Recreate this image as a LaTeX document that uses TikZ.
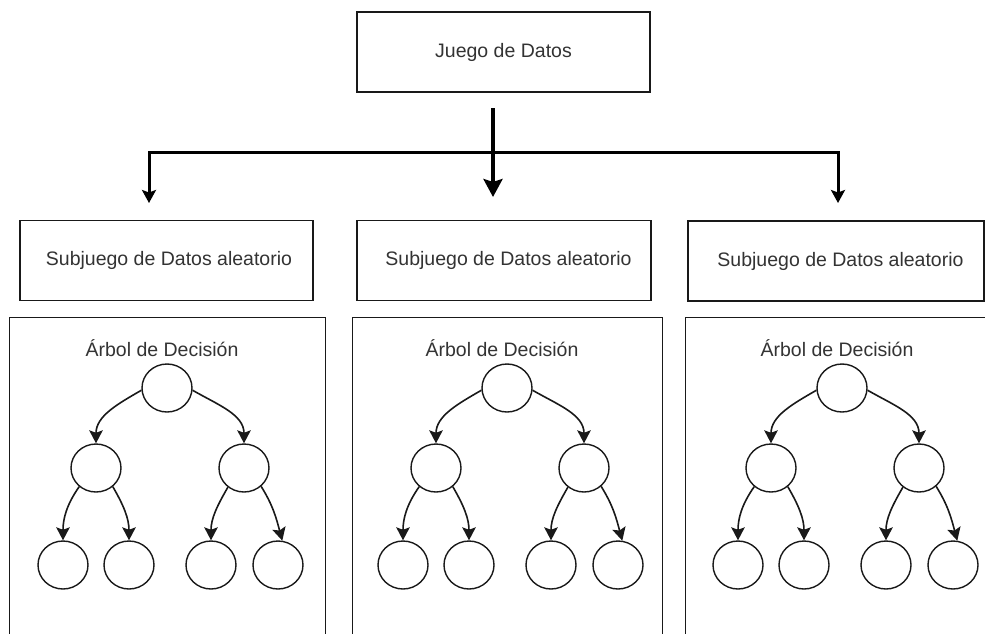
\documentclass[tikz,border=0pt]{standalone}
\usepackage{fontspec}
\setmainfont{Liberation Sans}
\usetikzlibrary{arrows.meta,shapes.geometric}
\definecolor{txt}{RGB}{51,51,51}
\definecolor{ink}{RGB}{25,25,25}
\begin{document}
\begin{tikzpicture}[x=1pt,y=1pt,
  lbl/.style={text=txt, font=\fontsize{19.5}{23}\selectfont},
  box/.style={lbl, draw=ink, line width=1.3pt, minimum height=80pt, inner sep=0pt},
  treebox/.style={draw=ink, line width=1.3pt, anchor=north west, minimum height=340pt, inner sep=0pt},
  tnode/.style={ellipse, draw=ink, line width=1.4pt, minimum width=50pt, minimum height=48pt, inner sep=0pt},
  bus/.style={draw=black, line width=3pt},
  treearrow/.style={draw=ink, line width=1.6pt, -{Stealth[length=13pt,width=13.5pt,inset=2.5pt]}}
]
\clip (0,0) rectangle (985,-633);
\fill[white] (0,0) rectangle (985,-633);

% data set
\node[box, minimum width=293pt] (top) at (503.5,-52) {Juego de Datos};

% drop from the data set and the distribution bus
\coordinate (drop) at (493,-108);
\coordinate (dropend) at (493,-197);
\coordinate (busL) at (149,-152);
\coordinate (busR) at (838,-152);
\coordinate (tipL) at (149,-203);
\coordinate (tipR) at (838,-203);
\draw[bus, {Stealth[length=13pt,width=14pt,inset=2.5pt]}-{Stealth[length=13pt,width=14pt,inset=2.5pt]}]
  (tipL) -- (busL) -- (busR) -- (tipR);
\draw[bus, line width=3.8pt, -{Stealth[length=18pt,width=19pt,inset=3pt]}] (drop) -- (dropend);

% random subsets
\node[box, minimum width=293pt] (sub1) at (166.5,-260.5) {\hspace*{5pt}Subjuego de Datos aleatorio};
\node[box, minimum width=294pt] (sub2) at (504,-260.5) {\hspace*{9pt}Subjuego de Datos aleatorio};
\node[box, minimum width=296pt] (sub3) at (836,-261) {\hspace*{9pt}Subjuego de Datos aleatorio};

% one decision tree per subset
\foreach \i/\rx/\bl/\bw in {1/167/9/316, 2/507/352/310, 3/842/685/314} {
  \node[treebox, minimum width=\bw pt] (tb\i) at (\bl,-316.5) {};
  \node[lbl, anchor=base] (tl\i) at (\rx-5,-356) {Árbol de Decisión};
  \node[tnode] (r\i) at (\rx,-388) {};
  \node[tnode] (a\i) at (\rx-71,-468) {};
  \node[tnode] (b\i) at (\rx+77,-468) {};
  \node[tnode] (c\i) at (\rx-104,-565) {};
  \node[tnode] (d\i) at (\rx-38,-565) {};
  \node[tnode] (e\i) at (\rx+44,-565) {};
  \node[tnode] (f\i) at (\rx+111,-565) {};
  \draw[treearrow] (r\i.185) to[out=210, in=90] (a\i.north);
  \draw[treearrow] (r\i.355) to[out=-30, in=90] (b\i.north);
  \draw[treearrow] (a\i.228) to[out=235, in=90] (c\i.north);
  \draw[treearrow] (a\i.312) to[out=-60, in=90] (d\i.north);
  \draw[treearrow] (b\i.230) to[out=240, in=90] (e\i.north);
  \draw[treearrow] (b\i.313) to[out=-58, in=105] (f\i.80);
}
\end{tikzpicture}
\end{document}
